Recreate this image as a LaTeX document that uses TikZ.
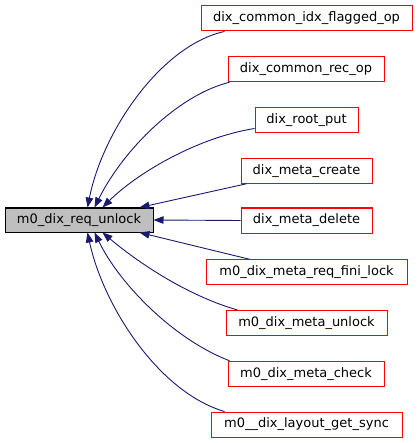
\documentclass[tikz,border=0pt]{standalone}
\usepackage{fontspec}
\setmainfont{DejaVu Sans}
\usetikzlibrary{calc,arrows.meta}
\definecolor{edgeblue}{HTML}{191970}
\definecolor{boxgray}{HTML}{BFBFBF}
\begin{document}
\begin{tikzpicture}[x=1pt,y=-1pt,
  every node/.style={font=\fontsize{13}{15}\selectfont, inner sep=0pt, minimum height=25pt, anchor=center},
  caller/.style={draw=red, line width=1pt, fill=white},
  mainbox/.style={draw=black, line width=1pt, fill=boxgray, minimum height=24pt},
  edge/.style={draw=edgeblue, line width=0.9pt, -{Triangle[length=10pt,width=7.5pt]}}]
\useasboundingbox (0,0) rectangle (417,443);
\node[mainbox, minimum width=148pt] (main) at (79,220) {m0\_dix\_req\_unlock};
\node[caller, minimum width=211pt] (n1) at (306.5,18.5) {dix\_common\_idx\_flagged\_op};
\node[caller, minimum width=156pt] (n2) at (306,69.25) {dix\_common\_rec\_op};
\node[caller, minimum width=103pt] (n3) at (306.5,120) {dix\_root\_put};
\node[caller, minimum width=131pt] (n4) at (306.5,170.75) {dix\_meta\_create};
\node[caller, minimum width=131pt] (n5) at (306.5,220.5) {dix\_meta\_delete};
\node[caller, minimum width=201pt] (n6) at (306.5,272.25) {m0\_dix\_meta\_req\_fini\_lock};
\node[caller, minimum width=161pt] (n7) at (306.5,323) {m0\_dix\_meta\_unlock};
\node[caller, minimum width=156pt] (n8) at (306,373.75) {m0\_dix\_meta\_check};
\node[caller, minimum width=191pt] (n9) at (306.5,424.5) {m0\_\_dix\_layout\_get\_sync};
% edges
\draw[edge] ($(n1.south west)+(24,0)$) .. controls (162,45) and (103,130) .. ($(main.north west)+(83,0)$);
\draw[edge] ($(n2.south west)+(2,0)$) .. controls (178,95) and (123,150) .. ($(main.north west)+(90,0)$);
\draw[edge] ($(n3.south west)+(0,-4.5)$) .. controls (195,138) and (135,175) .. ($(main.north west)+(98,0)$);
\draw[edge] ($(n4.south west)+(6,0)$) -- ($(main.north west)+(135,0)$);
\draw[edge] (n5.west) -- (main.east);
\draw[edge] ($(n6.north west)+(44,0)$) -- ($(main.south west)+(135,0)$);
\draw[edge] ($(n7.north west)+(12,0)$) .. controls (185,295) and (135,260) .. ($(main.south west)+(98,0)$);
\draw[edge] ($(n8.north west)+(2,0)$) .. controls (175,340) and (120,285) .. ($(main.south west)+(90,0)$);
\draw[edge] ($(n9.north west)+(14,0)$) .. controls (158,392) and (103,305) .. ($(main.south west)+(83,0)$);
\end{tikzpicture}
\end{document}
